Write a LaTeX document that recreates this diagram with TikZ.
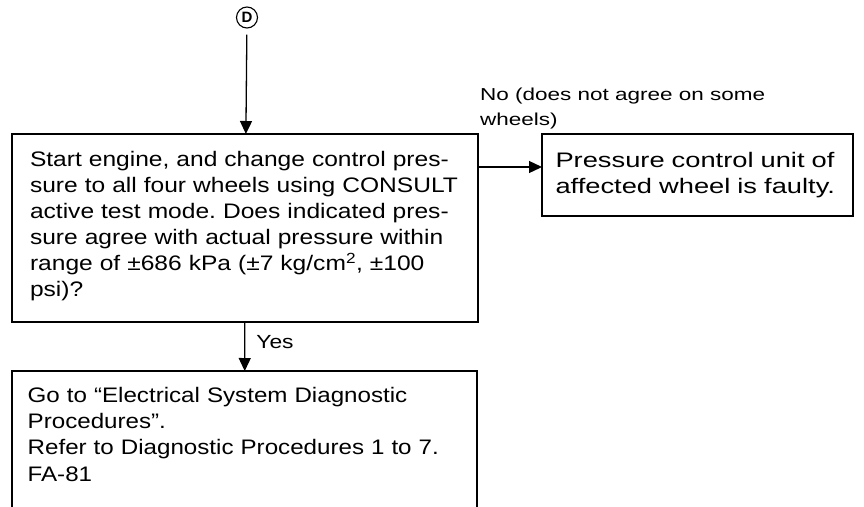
\documentclass[tikz,border=0pt]{standalone}
\usepackage{fontspec}
\setmainfont{Liberation Sans}
\usetikzlibrary{arrows.meta,positioning}
\frenchspacing

\begin{document}
\begin{tikzpicture}[x=1pt, y=-1pt, every node/.style={font=\fontsize{21}{26}\selectfont}]
        \tikzstyle{block} = [rectangle, draw=black, line width=1.6pt, align=left,
            anchor=north west, outer sep=0pt]
        \tikzstyle{arrow} = [-{Triangle[length=13pt,width=12pt]}, line width=1.3pt]

        \useasboundingbox (0,0) rectangle (864,506);

        % connector mark and the three boxes
        \node (markD) [circle, draw, line width=1.1pt, minimum size=21pt, inner sep=0pt,
            font=\fontsize{15}{15}\selectfont\bfseries] at (247,17.5) {D};
        \node (check) [block, text width=430pt, inner xsep=18pt, inner ysep=17.4pt,
            text depth=138pt, font=\fontsize{21}{26}\selectfont\addfontfeatures{FakeStretch=1.17}]
            at (12,134)
            {Start engine, and change control pres-\\
             sure to all four wheels using CONSULT\\
             active test mode. Does indicated pres-\\
             sure agree with actual pressure within\\
             range of ±686 kPa (±7 kg/cm\textsuperscript{2}, ±100\\
             psi)?};
        \node (faulty) [block, text width=284pt, inner xsep=13.5pt, minimum height=82pt,
            font=\fontsize{21}{26.5}\selectfont\addfontfeatures{FakeStretch=1.3}]
            at (542,134)
            {Pressure control unit of\\ affected wheel is faulty.};
        \node (elec) [block, text width=433.6pt, inner xsep=15.7pt, inner ysep=16pt,
            text depth=200pt, font=\fontsize{21}{26.3}\selectfont\addfontfeatures{FakeStretch=1.15}]
            at (12,371)
            {Go to ``Electrical System Diagnostic\\
             Procedures''.\\
             Refer to Diagnostic Procedures 1 to 7.\\
             FA-81};

        \node (nolabel) [anchor=north west, inner sep=0pt, align=left,
            font=\fontsize{17.3}{25}\selectfont\addfontfeatures{FakeStretch=1.3}] at (480,88.1)
            {No (does not agree on some\\ wheels)};

        \draw [arrow, shorten <=6pt] (markD) -- (check);
        \draw [arrow] ([yshift=8pt]faulty.west -| check.east) -- ([yshift=8pt]faulty.west);
        \draw [arrow] (check) -- node[pos=0.4, anchor=west, inner sep=0pt, xshift=11pt,
            font=\fontsize{19}{19}\selectfont\addfontfeatures{FakeStretch=1.2}] {Yes} (elec);
    \end{tikzpicture}
\end{document}
